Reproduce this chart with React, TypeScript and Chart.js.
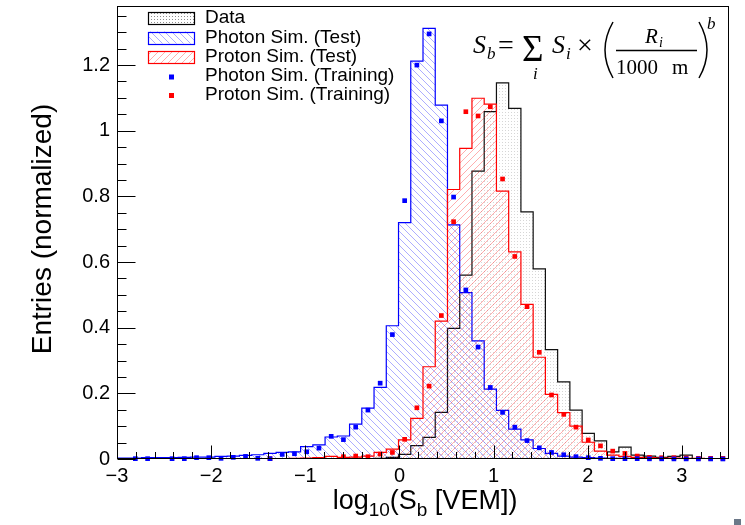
import React, { useEffect, useRef } from 'react';
import { Chart, registerables } from 'chart.js';

Chart.register(...registerables);

// ---- binning ----
const X_MIN = -3;
const X_MAX = 3.5;
const Y_MAX = 1.38;
const BIN_WIDTH = 0.13;
const N_BINS = 50;

// ---- histogram contents (50 bins of 0.13 from -3) ----
const dataHist = [
  0.001, 0.001, 0.001, 0.001, 0.001, 0.001, 0.001, 0.001, 0.001, 0.001,
  0.001, 0.001, 0.001, 0.001, 0.001, 0.001, 0.001, 0.001, 0.001, 0.001,
  0.001, 0.002, 0.005, 0.014, 0.041, 0.066, 0.142, 0.398, 0.560, 0.877,
  1.058, 1.146, 1.068, 0.753, 0.579, 0.333, 0.235, 0.149, 0.078, 0.055,
  0.022, 0.036, 0.012, 0.009, 0.005, 0.008, 0.012, 0.001, 0.001, 0.001,
];

const photonTest = [
  0.003, 0.003, 0.004, 0.004, 0.004, 0.005, 0.006, 0.006, 0.008, 0.009,
  0.011, 0.013, 0.017, 0.020, 0.022, 0.038, 0.043, 0.067, 0.070, 0.106,
  0.155, 0.218, 0.406, 0.720, 1.212, 1.312, 1.078, 0.713, 0.507, 0.360,
  0.213, 0.148, 0.091, 0.058, 0.032, 0.017, 0.009, 0.006, 0.004, 0.003,
  0.002, 0.002, 0.001, 0.001, 0.001, 0.001, 0.0005, 0.0005, 0.0, 0.0,
];

const protonTest = [
  0.0005, 0.0005, 0.0005, 0.0005, 0.0005, 0.0005, 0.0005, 0.0005, 0.0005, 0.0005,
  0.0005, 0.001, 0.001, 0.001, 0.002, 0.003, 0.004, 0.008, 0.005, 0.006,
  0.009, 0.020, 0.030, 0.058, 0.124, 0.281, 0.420, 0.821, 0.946, 1.099,
  1.081, 0.816, 0.631, 0.471, 0.310, 0.197, 0.141, 0.100, 0.051, 0.024,
  0.012, 0.008, 0.005, 0.004, 0.003, 0.003, 0.002, 0.002, 0.001, 0.001,
];

const photonTrain: (number | null)[] = [
  null, 0.001, 0.001, null, 0.001, 0.001, 0.004, 0.004, 0.002, 0.005,
  0.008, 0.002, 0.001, 0.014, 0.016, 0.022, 0.033, 0.069, 0.059, 0.097,
  0.149, 0.231, 0.379, 0.787, 1.200, 1.295, 1.030, 0.798, 0.515, 0.341,
  0.218, 0.142, 0.097, 0.056, 0.034, 0.020, 0.013, 0.007, 0.004, 0.002,
  0.001, 0.001, 0.001, 0.0005, 0.0005, 0.0003, 0.0003, 0.0002, 0.0002, 0.0001,
];

const protonTrain: (number | null)[] = [
  null, null, null, null, null, null, null, null, null, null,
  null, null, 0.001, null, null, null, null, null, 0.007, 0.009,
  0.007, 0.015, 0.020, 0.060, 0.156, 0.222, 0.437, 0.723, 1.058, 1.045,
  1.073, 0.853, 0.617, 0.464, 0.325, 0.195, 0.136, 0.097, 0.058, 0.040,
  0.024, 0.017, 0.009, 0.005, 0.004, 0.004, 0.003, 0.002, 0.002, 0.002,
];

// ---- axis ticks / labels ----
const xTickValues = [-3, -2, -1, 0, 1, 2, 3];
const xTickLabels = ['\u22123', '\u22122', '\u22121', '0', '1', '2', '3'];
const yTickValues = [0, 0.2, 0.4, 0.6, 0.8, 1, 1.2];
const yTickLabels = ['0', '0.2', '0.4', '0.6', '0.8', '1', '1.2'];
const legendLabels = [
  'Data',
  'Photon Sim. (Test)',
  'Proton Sim. (Test)',
  'Photon Sim. (Training)',
  'Proton Sim. (Training)',
];

const SANS = '"Liberation Sans", Arial, Helvetica, sans-serif';
const SERIF = '"Liberation Serif", "Times New Roman", serif';

function stepPoints(vals: number[]) {
  const pts: { x: number; y: number }[] = [{ x: X_MIN, y: 0 }];
  vals.forEach((v, k) => {
    const a = X_MIN + k * BIN_WIDTH;
    pts.push({ x: a, y: v }, { x: a + BIN_WIDTH, y: v });
  });
  pts.push({ x: X_MIN + N_BINS * BIN_WIDTH, y: 0 });
  return pts;
}

function centerPoints(vals: (number | null)[]) {
  const pts: { x: number; y: number }[] = [];
  vals.forEach((v, k) => {
    if (v !== null) pts.push({ x: X_MIN + (k + 0.5) * BIN_WIDTH, y: v });
  });
  return pts;
}

function makeHatch(ctx: CanvasRenderingContext2D, color: string, forward: boolean) {
  const s = 7;
  const c = document.createElement('canvas');
  c.width = s;
  c.height = s;
  const g = c.getContext('2d')!;
  g.strokeStyle = color;
  g.lineWidth = 1;
  g.beginPath();
  if (forward) {
    g.moveTo(-1, s + 1); g.lineTo(s + 1, -1);
    g.moveTo(-1, 1); g.lineTo(1, -1);
    g.moveTo(s - 1, s + 1); g.lineTo(s + 1, s - 1);
  } else {
    g.moveTo(-1, -1); g.lineTo(s + 1, s + 1);
    g.moveTo(s - 1, -1); g.lineTo(s + 1, 1);
    g.moveTo(-1, s - 1); g.lineTo(1, s + 1);
  }
  g.stroke();
  return ctx.createPattern(c, 'repeat')!;
}

function makeDots(ctx: CanvasRenderingContext2D, alpha: number) {
  const c = document.createElement('canvas');
  c.width = 3;
  c.height = 3;
  const g = c.getContext('2d')!;
  g.fillStyle = `rgba(0,0,0,${alpha})`;
  g.fillRect(1, 1, 1, 1);
  return ctx.createPattern(c, 'repeat')!;
}

export default function App() {
  const ref = useRef<HTMLCanvasElement>(null);

  useEffect(() => {
    const canvas = ref.current!;
    const ctx0 = canvas.getContext('2d')!;
    const blueHatch = makeHatch(ctx0, 'rgba(40,40,255,0.38)', false);
    const redHatch = makeHatch(ctx0, 'rgba(255,30,30,0.36)', true);
    const dots = makeDots(ctx0, 0.16);
    const legendDots = makeDots(ctx0, 0.45);

    const decor = {
      id: 'rootDecor',
      afterDraw(chart: any) {
        const { ctx, chartArea: ca, scales } = chart;
        const xs = scales.x;
        const ys = scales.y;
        ctx.save();
        // frame
        ctx.strokeStyle = '#000';
        ctx.lineWidth = 1;
        const L = Math.round(ca.left) + 0.5;
        const R = Math.round(ca.right) - 0.5;
        const T = Math.round(ca.top) + 0.5;
        const B = Math.round(ca.bottom) - 0.5;
        ctx.strokeRect(L, T, R - L, B - T);

        // x ticks
        ctx.beginPath();
        for (let i = 0; i <= 32; i++) {
          const v = X_MIN + i * 0.2;
          const px = Math.round(xs.getPixelForValue(v)) + 0.5;
          const len = i % 5 === 0 ? 13 : 6.5;
          ctx.moveTo(px, B);
          ctx.lineTo(px, B - len);
        }
        // y ticks
        for (let i = 0; i <= 27; i++) {
          const v = i * 0.05;
          const py = Math.round(ys.getPixelForValue(v)) + 0.5;
          const len = i % 4 === 0 ? 18 : 9;
          ctx.moveTo(L, py);
          ctx.lineTo(L + len, py);
        }
        ctx.stroke();

        // tick labels
        ctx.fillStyle = '#000';
        ctx.font = `20px ${SANS}`;
        ctx.textAlign = 'center';
        ctx.textBaseline = 'alphabetic';
        xTickValues.forEach((v, i) => {
          ctx.fillText(xTickLabels[i], xs.getPixelForValue(v), 481.5);
        });
        ctx.textAlign = 'right';
        ctx.textBaseline = 'middle';
        yTickValues.forEach((v, i) => {
          ctx.fillText(yTickLabels[i], 110, ys.getPixelForValue(v));
        });

        // y title
        ctx.save();
        ctx.translate(51, 229);
        ctx.rotate(-Math.PI / 2);
        ctx.font = `28px ${SANS}`;
        ctx.textAlign = 'center';
        ctx.textBaseline = 'alphabetic';
        ctx.fillText('Entries (normalized)', 0, 0);
        ctx.restore();

        // x title with subscripts
        const parts = [
          { t: 'log', s: 27, dy: 0 },
          { t: '10', s: 19, dy: 7 },
          { t: '(S', s: 27, dy: 0 },
          { t: 'b', s: 19, dy: 7 },
          { t: ' [VEM])', s: 27, dy: 0 },
        ];
        ctx.textAlign = 'left';
        ctx.textBaseline = 'alphabetic';
        let total = 0;
        parts.forEach((p) => {
          ctx.font = `${p.s}px ${SANS}`;
          total += ctx.measureText(p.t).width;
        });
        let cx = (ca.left + ca.right) / 2 - total / 2 + 2;
        parts.forEach((p) => {
          ctx.font = `${p.s}px ${SANS}`;
          ctx.fillText(p.t, cx, 509 + p.dy);
          cx += ctx.measureText(p.t).width;
        });

        // legend
        const baselines = [23, 42.5, 62, 81, 99.5];
        ctx.font = `19px ${SANS}`;
        legendLabels.forEach((lab, i) => {
          ctx.fillStyle = '#000';
          ctx.fillText(lab, 205, baselines[i]);
        });
        const boxFills = [legendDots, blueHatch, redHatch];
        const boxLines = ['#000', '#0000ff', '#ff0000'];
        for (let i = 0; i < 3; i++) {
          const cy = baselines[i] - 5;
          ctx.fillStyle = boxFills[i];
          ctx.fillRect(148, cy - 6, 47, 12);
          ctx.strokeStyle = boxLines[i];
          ctx.lineWidth = 1.2;
          ctx.strokeRect(148.5, Math.round(cy - 6) + 0.5, 46, 12);
        }
        ctx.fillStyle = '#0000ff';
        ctx.fillRect(169, baselines[3] - 6.5, 5, 5);
        ctx.fillStyle = '#ff0000';
        ctx.fillRect(169, baselines[4] - 6.5, 5, 5);

        // formula
        ctx.fillStyle = '#000';
        ctx.strokeStyle = '#000';
        ctx.font = `italic 26px ${SERIF}`;
        ctx.fillText('S', 473, 53);
        ctx.font = `italic 17px ${SERIF}`;
        ctx.fillText('b', 487, 59);
        ctx.font = `28px ${SERIF}`;
        ctx.fillText('=', 498, 54);
        ctx.font = `37px ${SERIF}`;
        ctx.fillText('\u03A3', 522, 61);
        ctx.font = `italic 17px ${SERIF}`;
        ctx.fillText('i', 533, 79);
        ctx.font = `italic 26px ${SERIF}`;
        ctx.fillText('S', 552, 53);
        ctx.font = `italic 17px ${SERIF}`;
        ctx.fillText('i', 566, 59);
        ctx.font = `28px ${SERIF}`;
        ctx.fillText('\u00D7', 577, 54);
        ctx.lineWidth = 1.5;
        ctx.beginPath();
        ctx.moveTo(613, 22);
        ctx.quadraticCurveTo(597, 50, 613, 78);
        ctx.moveTo(699, 22);
        ctx.quadraticCurveTo(715, 50, 699, 78);
        ctx.stroke();
        ctx.font = `italic 21px ${SERIF}`;
        ctx.fillText('R', 645, 43);
        ctx.font = `italic 14px ${SERIF}`;
        ctx.fillText('i', 659, 47);
        ctx.lineWidth = 1.5;
        ctx.beginPath();
        ctx.moveTo(616, 50.5);
        ctx.lineTo(697, 50.5);
        ctx.stroke();
        ctx.font = `21px ${SERIF}`;
        ctx.fillText('1000', 616, 74);
        ctx.fillText('m', 672, 74);
        ctx.font = `italic 17px ${SERIF}`;
        ctx.fillText('b', 707, 29);

        // small corner mark
        ctx.fillStyle = '#6b7888';
        ctx.fillRect(734, 519, 7, 6);
        ctx.restore();
      },
    };

    const chart = new Chart(canvas, {
      type: 'scatter',
      data: {
        datasets: [
          {
            label: legendLabels[3],
            data: centerPoints(photonTrain),
            pointStyle: 'rect',
            pointRadius: 3.3,
            backgroundColor: '#0000ff',
            borderWidth: 0,
            order: 0,
            clip: false,
          } as any,
          {
            label: legendLabels[4],
            data: centerPoints(protonTrain),
            pointStyle: 'rect',
            pointRadius: 3.3,
            backgroundColor: '#ff0000',
            borderWidth: 0,
            order: 0,
            clip: false,
          } as any,
          {
            label: legendLabels[2],
            data: stepPoints(protonTest),
            showLine: true,
            fill: 'origin',
            backgroundColor: redHatch,
            borderColor: '#ff0000',
            borderWidth: 1.2,
            pointRadius: 0,
            tension: 0,
            order: 1,
          } as any,
          {
            label: legendLabels[1],
            data: stepPoints(photonTest),
            showLine: true,
            fill: 'origin',
            backgroundColor: blueHatch,
            borderColor: '#0000ff',
            borderWidth: 1.2,
            pointRadius: 0,
            tension: 0,
            order: 2,
          } as any,
          {
            label: legendLabels[0],
            data: stepPoints(dataHist),
            showLine: true,
            fill: 'origin',
            backgroundColor: dots,
            borderColor: '#111111',
            borderWidth: 1.2,
            pointRadius: 0,
            tension: 0,
            order: 3,
          } as any,
        ],
      },
      options: {
        animation: false,
        responsive: false,
        devicePixelRatio: 1,
        events: [],
        layout: { padding: { left: 117, top: 6, right: 16, bottom: 66 } },
        scales: {
          x: { type: 'linear', min: X_MIN, max: X_MAX, display: false },
          y: { type: 'linear', min: 0, max: Y_MAX, display: false },
        },
        plugins: { legend: { display: false }, tooltip: { enabled: false } },
      },
      plugins: [decor],
    });
    return () => chart.destroy();
  }, []);

  return (
    <div style={{ position: 'absolute', left: 0, top: 0, width: 745, height: 525, background: '#fff' }}>
      <canvas ref={ref} width={745} height={525} style={{ display: 'block', width: 745, height: 525 }} />
    </div>
  );
}
